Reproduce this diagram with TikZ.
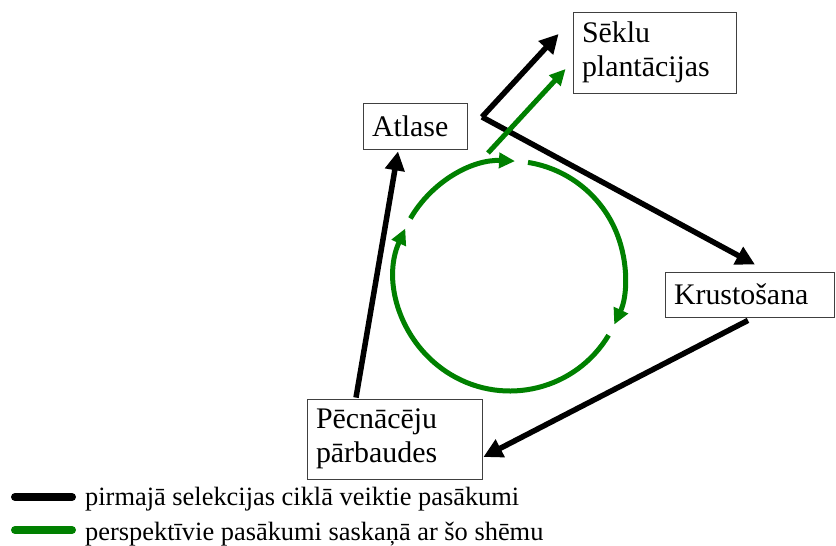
\documentclass[tikz,border=0pt]{standalone}
\usepackage{fontspec}
\setmainfont{Liberation Serif}
\usetikzlibrary{arrows.meta}
\definecolor{ciklazals}{RGB}{0,128,0}

\begin{document}
\begin{tikzpicture}[x=1bp, y=1bp,
  lodzins/.style={draw=black!75, line width=0.8bp, fill=white, inner xsep=9bp, inner ysep=0pt,
    align=left, font=\fontsize{30}{34.5}\selectfont},
  melnais/.style={line width=5.5bp, -{Triangle[length=19bp, width=19bp]}},
  zalais/.style={ciklazals, line width=5bp, -{Triangle[length=16bp, width=15bp]}},
  legenda/.style={line width=8bp, line cap=round},
  legteksts/.style={anchor=base west, inner sep=0pt, font=\fontsize{26.5}{30}\selectfont}]
  \useasboundingbox (0,0) rectangle (836,546);

  % 四个环节
  \node[lodzins, text width=86bp, minimum height=46bp] (atlase) at (415,420) {Atlase};
  \node[lodzins, text width=145bp, minimum height=81bp] (seklu) at (654.5,493.5) {Sēklu\\plantācijas};
  \node[lodzins, text width=151bp, minimum height=45bp] (krust) at (749.5,251.5) {Krustošana};
  \node[lodzins, text width=157bp, minimum height=80bp] (pecn) at (394.5,107) {Pēcnācēju\\pārbaudes};

  % 第一轮选育：黑色箭头
  \coordinate (dakša) at (482,429);
  \draw[melnais] (dakša) -- ([shift={(-14,18.5)}]seklu.west);
  \draw[melnais] (dakša) -- ([shift={(5.5,7)}]krust.north);
  \draw[melnais] ([shift={(-1.5,-3)}]krust.south) -- ([shift={(1,-18)}]pecn.east);
  \draw[melnais] ([shift={(-38.5,1)}]pecn.north) -- ([shift={(-17,-2)}]atlase.south);

  % 今后的循环：绿色
  \coordinate (centrs) at (510,270);
  \coordinate (izeja) at (488,393);
  \draw[zalais] (izeja) -- ([shift={(-7,-16.5)}]seklu.west);
  \draw[zalais] ([shift={(81:115)}]centrs) arc[start angle=81, end angle=-25, radius=115];
  \draw[zalais] ([shift={(-31:115)}]centrs) arc[start angle=-31, end angle=-204.4, radius=115];
  \draw[zalais] ([shift={(150:115)}]centrs) arc[start angle=150, end angle=87.5, radius=115];

  % 图例
  \coordinate (l1a) at (15,49);  \coordinate (l1b) at (72,49);
  \coordinate (l2a) at (15,16);  \coordinate (l2b) at (72,16);
  \draw[legenda] (l1a) -- (l1b);
  \draw[legenda, ciklazals] (l2a) -- (l2b);
  \node[legteksts] (leg1) at (85,40) {pirmajā selekcijas ciklā veiktie pasākumi};
  \node[legteksts] (leg2) at (85,5) {perspektīvie pasākumi saskaņā ar šo shēmu};
\end{tikzpicture}
\end{document}
